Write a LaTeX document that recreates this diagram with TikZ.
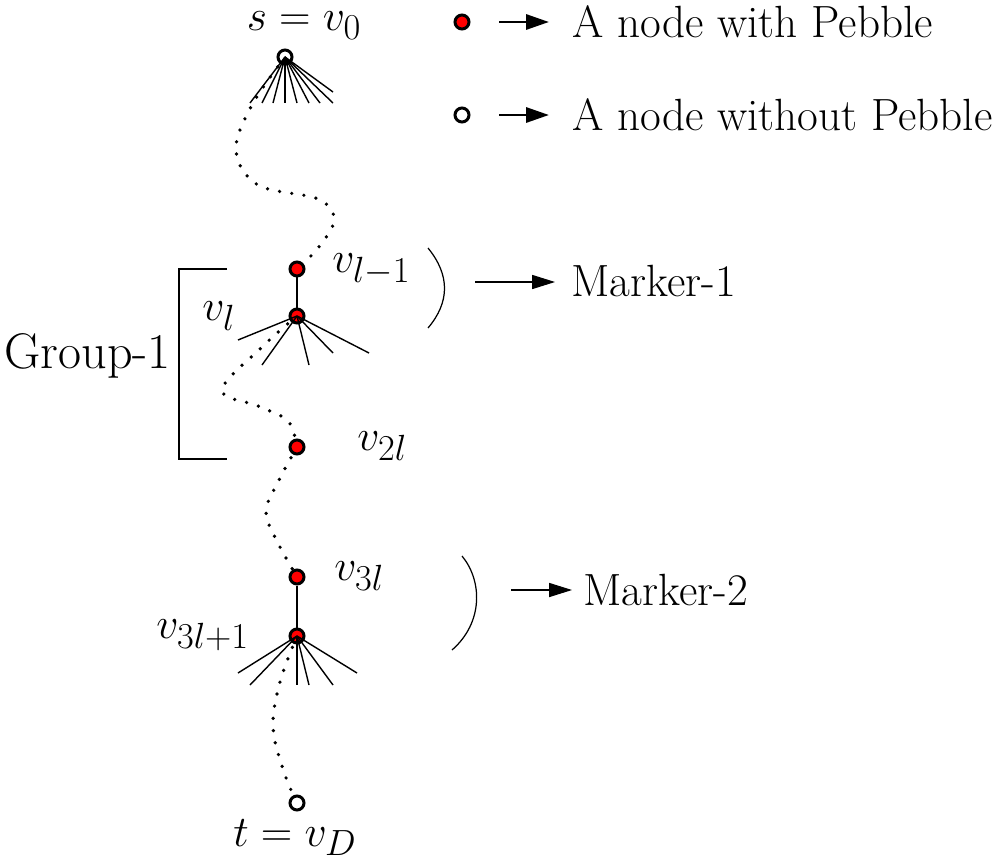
\documentclass[tikz,border=0pt]{standalone}
\usetikzlibrary{arrows.meta,backgrounds}
\begin{document}
\begin{tikzpicture}[x=0.02cm,y=-0.02cm,
  font=\fontsize{25.7}{31}\selectfont,
  big/.style={font=\fontsize{28.5}{34}\selectfont},
  bigger/.style={font=\fontsize{31}{37}\selectfont},
  pebble/.style={circle, draw, line width=1.7pt, fill=red, minimum size=0.28cm, inner sep=0pt},
  nopebble/.style={circle, draw, line width=1.7pt, fill=white, minimum size=0.28cm, inner sep=0pt},
  fanline/.style={line width=0.8pt},
  dotpath/.style={line width=2.1pt, dash pattern=on 0pt off 7pt, line cap=round},
  link/.style={line width=1.2pt},
  legarrow/.style={line width=1.7pt, -{Triangle[length=13pt,width=8.5pt]}},
  markarrow/.style={line width=0.6pt, -{Triangle[length=13pt,width=8pt]}},
  parenline/.style={line width=0.7pt},
  lbl/.style={inner sep=0pt}]
\useasboundingbox (0,0) rectangle (996,862);

% nodes of the path
\node[nopebble] (s) at (285,57) {};
\node[pebble] (vl1) at (297,269) {};
\node[pebble] (vl) at (297,316) {};
\node[pebble] (v2l) at (297,447) {};
\node[pebble] (v3l) at (297,577) {};
\node[pebble] (v3l1) at (297,636) {};
\node[nopebble] (t) at (297,803) {};

% labels
\node[lbl, bigger, anchor=base] (ls) at (304,31) {$s=v_0$};
\node[lbl, bigger, anchor=base] (lt) at (295,846) {$t=v_D$};
\node[lbl, big, anchor=base west] (lvl1) at (332,272) {$v_{l-1}$};
\node[lbl, big, anchor=base west] (lvl) at (202,320) {$v_l$};
\node[lbl, big, anchor=base west] (lv2l) at (357,450) {$v_{2l}$};
\node[lbl, big, anchor=base west] (lv3l) at (334,580) {$v_{3l}$};
\node[lbl, big, anchor=base west] (lv3l1) at (156,638) {$v_{3l+1}$};
\node[lbl, big, anchor=base west] (group) at (4,368) {Group-1};
\node[lbl, anchor=west] (mk1) at (571,281) {Marker-1};
\node[lbl, anchor=west] (mk2) at (583,590) {Marker-2};

% dotted paths
\begin{pgfonlayer}{background}
\draw[dotpath] plot[smooth, tension=0.6] coordinates {(s.center) (252,105) (236,150) (258,185) (318,199) (334,220) (318,248) (vl1.center)};
\draw[dotpath] plot[smooth, tension=0.6] coordinates {(vl.center) (262,347) (222,390) (258,406) (288,421) (v2l.center)};
\draw[dotpath] plot[smooth, tension=0.6] coordinates {(v2l.center) (278,482) (266,512) (278,543) (v3l.center)};
\draw[dotpath] plot[smooth, tension=0.6] coordinates {(v3l1.center) (280,682) (273,727) (284,772) (t.center)};
\end{pgfonlayer}

% solid links
\draw[link] (vl1) -- (vl);
\draw[link] (v3l) -- (v3l1);

% fans
\foreach \p in {(250,103),(262,103),(273,103),(285,103),(297,103),(309,103),(320,103),(333,103),(333,92)}
  \draw[fanline] (s.center) -- \p;
\foreach \p in {(238,340),(262,365),(309,365),(333,353),(369,353)}
  \draw[fanline] (vl.center) -- \p;
\foreach \p in {(238,673),(250,685),(297,685),(309,685),(333,685),(357,673)}
  \draw[fanline] (v3l1.center) -- \p;

% group bracket
\draw[parenline] (227,269) -- (179,269) -- (179,459) -- (227,459);

% marker parentheses and arrows
\draw[parenline] (428,248) .. controls (450,275) and (450,302) .. (428,328);
\draw[parenline] (462,556) .. controls (482,580) and (484,622) .. (452,650);
\coordinate (m1a) at (475,282);
\coordinate (m2a) at (511,590);
\draw[markarrow] (m1a) -- ([xshift=-0.32cm]mk1.west |- m1a);
\draw[markarrow] (m2a) -- ([xshift=-0.22cm]mk2.west |- m2a);

% legend
\node[pebble] (leg1) at (462,22) {};
\node[nopebble] (leg2) at (462,115) {};
\node[lbl, anchor=west] (legt1) at (572,22) {A node with Pebble};
\node[lbl, anchor=west] (legt2) at (572,115) {A node without Pebble};
\draw[legarrow] (499,22) -- (549,22);
\draw[legarrow] (499,115) -- (549,115);
\end{tikzpicture}
\end{document}
